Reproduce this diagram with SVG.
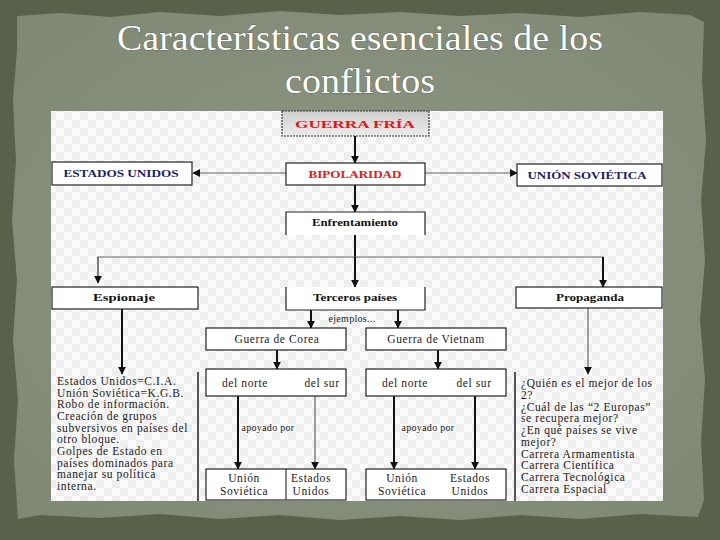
<svg xmlns="http://www.w3.org/2000/svg" width="720" height="540" viewBox="0 0 720 540">
<defs>
<style>
.title{font-family:"Liberation Serif","DejaVu Serif",serif;font-size:36px;fill:#ffffff;stroke:#2e3329;stroke-width:0.5px;paint-order:stroke;text-anchor:middle}
.bx{fill:#ffffff;stroke:#222;stroke-width:1.2}
.lb{font-family:"Liberation Serif","DejaVu Serif",serif;font-size:11px;font-weight:bold;fill:#111;text-anchor:middle}
.red{fill:#d42020}
.navy{fill:#1c1c6a}
.tx{font-family:"Liberation Serif","DejaVu Serif",serif;font-size:11.5px;letter-spacing:0.6px;fill:#1a1a1a}
.tc{font-family:"Liberation Serif","DejaVu Serif",serif;font-size:11.5px;letter-spacing:0.6px;fill:#1a1a1a;text-anchor:middle}
.sm{font-family:"Liberation Serif","DejaVu Serif",serif;font-size:10px;letter-spacing:0.3px;fill:#1a1a1a;text-anchor:middle}
.thick{stroke:#111;stroke-width:2;fill:none}
.thin{stroke:#666;stroke-width:1.2;fill:none}
.arr{marker-end:url(#ah)}
</style>
<marker id="ah" viewBox="0 0 10 10" refX="9" refY="5" markerWidth="8" markerHeight="8" markerUnits="userSpaceOnUse" orient="auto">
<path d="M0,0 L10,5 L0,10 Z" fill="#111"/>
</marker>
<pattern id="chk" width="16" height="16" patternUnits="userSpaceOnUse">
<rect width="16" height="16" fill="#fbfbfb"/>
<rect width="8" height="8" fill="#eeeeee"/>
<rect x="8" y="8" width="8" height="8" fill="#eeeeee"/>
</pattern>
<linearGradient id="gf" x1="0" y1="0" x2="0" y2="1">
<stop offset="0" stop-color="#cfcfcf"/>
<stop offset="1" stop-color="#ececec"/>
</linearGradient>
<radialGradient id="paper" cx="0.5" cy="0.5" r="0.7">
<stop offset="0" stop-color="#8f9886"/>
<stop offset="1" stop-color="#7f8873"/>
</radialGradient>
</defs>

<g id="background">
<rect width="720" height="540" fill="#586149"/>
<path d="M17,16 L60,13 L110,17 L160,12 L220,16 L280,11 L340,15 L400,12 L460,16 L520,13 L580,17 L640,12 L690,15 L704,22 L702,80 L706,140 L701,200 L705,260 L700,320 L705,380 L701,440 L704,500 L698,517 L640,514 L580,519 L520,515 L460,520 L400,516 L340,520 L280,515 L220,519 L160,514 L100,518 L40,515 L18,519 L14,460 L18,400 L13,340 L17,280 L12,220 L16,160 L13,100 L17,50 Z" fill="url(#paper)"/>
</g>

<g id="title">
<text class="title" x="360" y="50" textLength="486" lengthAdjust="spacingAndGlyphs">Características esenciales de los</text>
<text class="title" x="360" y="93" textLength="150" lengthAdjust="spacingAndGlyphs">conflictos</text>
</g>

<g id="panel">
<rect x="51" y="111" width="612" height="390" fill="url(#chk)"/>
</g>

<g id="connectors">
<line class="thick arr" x1="355" y1="136" x2="355" y2="163"/>
<line class="thin arr" x1="286" y1="173" x2="193" y2="173"/>
<line class="thin arr" x1="425" y1="173" x2="517" y2="173"/>
<line class="thick arr" x1="355" y1="185" x2="355" y2="212"/>
<line class="thick" x1="355" y1="235" x2="355" y2="257"/>
<polyline class="thin" points="98,283 98,257 603,257 603,287"/>
<line class="thin arr" x1="98" y1="257" x2="98" y2="283"/>
<line class="thick arr" x1="355" y1="257" x2="355" y2="287"/>
<line class="thick arr" x1="603" y1="257" x2="603" y2="287"/>
<line class="thick arr" x1="311" y1="310" x2="311" y2="328"/>
<line class="thick arr" x1="398" y1="310" x2="398" y2="328"/>
<line class="thick arr" x1="122" y1="309" x2="122" y2="374"/>
<line class="thick arr" x1="277" y1="350" x2="277" y2="369"/>
<line class="thick arr" x1="438" y1="350" x2="438" y2="369"/>
<line class="thin arr" x1="588" y1="308" x2="588" y2="374"/>
<line class="thick arr" x1="238" y1="396" x2="238" y2="469"/>
<line class="thin arr" x1="315" y1="396" x2="315" y2="469"/>
<line class="thick arr" x1="394" y1="396" x2="394" y2="469"/>
<line class="thick arr" x1="475" y1="396" x2="475" y2="469"/>
</g>

<g id="guerra-fria">
<rect x="282" y="111" width="147" height="25" fill="url(#gf)" stroke="#333" stroke-width="1.2" stroke-dasharray="2 1"/>
<text class="lb red" x="355" y="128" font-size="13" textLength="120" lengthAdjust="spacingAndGlyphs">GUERRA FRÍA</text>
</g>

<g id="bipolaridad">
<rect class="bx" x="286" y="163" width="139" height="22" stroke="#888"/>
<text class="lb red" x="355" y="178" textLength="93" lengthAdjust="spacingAndGlyphs">BIPOLARIDAD</text>
</g>

<g id="estados-unidos">
<rect class="bx" x="52" y="162" width="140" height="23"/>
<text class="lb navy" x="121" y="177" textLength="115" lengthAdjust="spacingAndGlyphs">ESTADOS UNIDOS</text>
</g>

<g id="union-sovietica">
<rect class="bx" x="517" y="164" width="145" height="22"/>
<text class="lb navy" x="587" y="179" textLength="119" lengthAdjust="spacingAndGlyphs">UNIÓN SOVIÉTICA</text>
</g>

<g id="enfrentamiento">
<polyline points="286,235 286,212 425,212 425,235" fill="#fff" stroke="#222" stroke-width="1.2"/>
<text class="lb" x="355" y="226" textLength="86" lengthAdjust="spacingAndGlyphs">Enfrentamiento</text>
</g>

<g id="espionaje">
<rect class="bx" x="52" y="287" width="146" height="22"/>
<text class="lb" x="124" y="301" textLength="62" lengthAdjust="spacingAndGlyphs">Espionaje</text>
</g>

<g id="terceros-paises">
<polyline points="286,287 286,310 425,310 425,287" fill="#fff" stroke="#222" stroke-width="1.2"/>
<text class="lb" x="355" y="301" textLength="84" lengthAdjust="spacingAndGlyphs">Terceros países</text>
<text class="sm" x="352" y="322">ejemplos...</text>
</g>

<g id="propaganda">
<rect class="bx" x="516" y="287" width="146" height="21"/>
<text class="lb" x="590" y="301" textLength="68" lengthAdjust="spacingAndGlyphs">Propaganda</text>
</g>

<g id="guerra-corea">
<rect class="bx" x="206" y="328" width="140" height="22" stroke="#444"/>
<text class="tc" x="277" y="343">Guerra de Corea</text>
</g>

<g id="guerra-vietnam">
<rect class="bx" x="366" y="328" width="140" height="22" stroke="#444"/>
<text class="tc" x="436" y="343">Guerra de Vietnam</text>
</g>

<g id="espionaje-detalle">
<line x1="198" y1="372" x2="198" y2="501" stroke="#555" stroke-width="2"/>
<text class="tx" x="57" y="385">Estados Unidos=C.I.A.</text>
<text class="tx" x="57" y="397">Unión Soviética=K.G.B.</text>
<text class="tx" x="57" y="408">Robo de información.</text>
<text class="tx" x="57" y="420">Creación de grupos</text>
<text class="tx" x="57" y="432">subversivos en países del</text>
<text class="tx" x="57" y="443">otro bloque.</text>
<text class="tx" x="57" y="455">Golpes de Estado en</text>
<text class="tx" x="57" y="467">países dominados para</text>
<text class="tx" x="57" y="478">manejar su política</text>
<text class="tx" x="57" y="490">interna.</text>
</g>

<g id="corea-bandos">
<rect class="bx" x="206" y="369" width="140" height="27" stroke="#333"/>
<text class="tc" x="245" y="387">del norte</text>
<text class="tc" x="322" y="387">del sur</text>
<text class="sm" x="268" y="431">apoyado por</text>
</g>

<g id="corea-apoyos">
<rect class="bx" x="206" y="469" width="140" height="31" stroke="#333"/>
<line x1="286" y1="469" x2="286" y2="500" stroke="#333" stroke-width="1.2"/>
<text class="tc" x="244" y="482">Unión</text>
<text class="tc" x="244" y="495">Soviética</text>
<text class="tc" x="311" y="482">Estados</text>
<text class="tc" x="311" y="495">Unidos</text>
</g>

<g id="vietnam-bandos">
<rect class="bx" x="366" y="369" width="140" height="27" stroke="#333"/>
<text class="tc" x="405" y="387">del norte</text>
<text class="tc" x="474" y="387">del sur</text>
<text class="sm" x="428" y="431">apoyado por</text>
</g>

<g id="vietnam-apoyos">
<rect class="bx" x="366" y="469" width="140" height="31" stroke="#333"/>
<text class="tc" x="402" y="482">Unión</text>
<text class="tc" x="402" y="495">Soviética</text>
<text class="tc" x="470" y="482">Estados</text>
<text class="tc" x="470" y="495">Unidos</text>
</g>

<g id="propaganda-detalle">
<line x1="515" y1="372" x2="515" y2="501" stroke="#555" stroke-width="2"/>
<text class="tx" x="521" y="387">¿Quién es el mejor de los</text>
<text class="tx" x="521" y="399">2?</text>
<text class="tx" x="521" y="411">¿Cuál de las “2 Europas”</text>
<text class="tx" x="521" y="422">se recupera mejor?</text>
<text class="tx" x="521" y="434">¿En qué países se vive</text>
<text class="tx" x="521" y="446">mejor?</text>
<text class="tx" x="521" y="458">Carrera Armamentista</text>
<text class="tx" x="521" y="469">Carrera Científica</text>
<text class="tx" x="521" y="481">Carrera Tecnológica</text>
<text class="tx" x="521" y="493">Carrera Espacial</text>
</g>
</svg>
